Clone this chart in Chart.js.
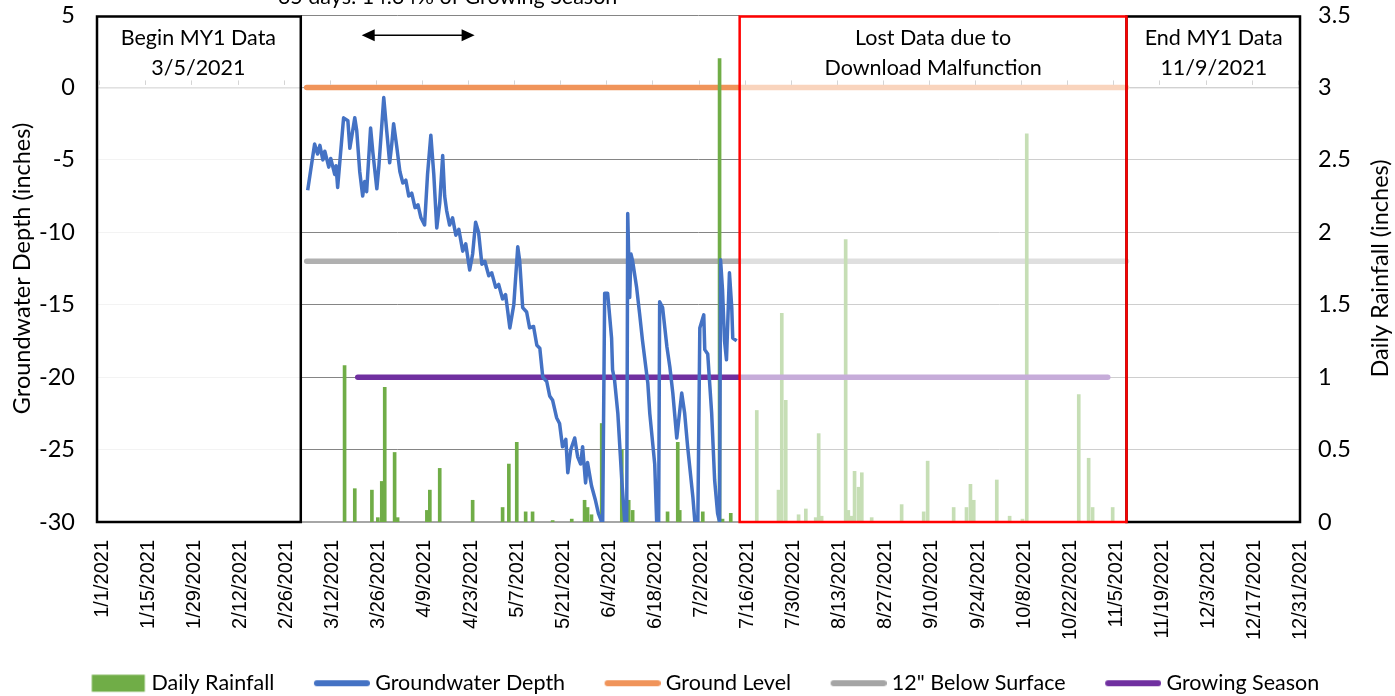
<!DOCTYPE html>
<html><head><meta charset="utf-8">
<script src="https://cdn.jsdelivr.net/npm/chart.js@4.4.1/dist/chart.umd.min.js"></script>
<style>html,body{margin:0;padding:0;background:#fff;overflow:hidden}</style>
</head><body>
<canvas id="c" width="1395" height="696"></canvas>
<script>
// ---- x axis ticks (day index from 1/1/2021) ----
const tickDays = [0,14,28,42,56,70,84,98,112,126,140,154,168,182,196,210,224,238,252,266,280,294,308,322,336,350,364];
const tickLabels = ['1/1/2021','1/15/2021','1/29/2021','2/12/2021','2/26/2021','3/12/2021','3/26/2021','4/9/2021','4/23/2021','5/7/2021','5/21/2021','6/4/2021','6/18/2021','7/2/2021','7/16/2021','7/30/2021','8/13/2021','8/27/2021','9/10/2021','9/24/2021','10/8/2021','10/22/2021','11/5/2021','11/19/2021','12/3/2021','12/17/2021','12/31/2021'];

// ---- groundwater depth (inches) ----
const gwDays = [63.3,65.4,66.3,67.0,67.9,68.5,69.7,70.3,71.5,71.9,72.4,74.2,75.5,76.1,77.6,78.2,79.1,80.0,80.6,81.2,82.4,83.1,84.3,84.9,86.4,87.3,88.2,88.8,89.4,90.3,91.3,92.2,93.1,94.0,94.9,95.9,96.8,97.7,98.8,99.7,100.7,101.6,102.5,103.4,104.3,104.9,105.5,106.4,107.3,108.3,109.2,110.4,111.3,112.5,113.4,114.3,115.2,116.2,117.1,118.3,119.2,120.4,121.3,122.5,123.4,124.7,125.9,127.1,127.7,128.6,129.8,130.7,131.9,132.9,133.8,134.7,135.9,136.8,137.7,138.9,139.8,140.7,141.7,142.3,143.2,144.4,145.3,146.2,146.8,147.7,148.3,149.5,150.7,151.6,152.6,152.9,153.5,154.4,155.6,155.9,156.5,157.5,158.7,159.6,160.2,160.5,161.1,161.5,162.0,163.2,164.1,165.0,166.6,167.2,168.7,169.3,169.9,170.2,171.1,172.4,173.3,174.2,175.4,176.9,177.8,178.7,180.3,180.9,181.8,182.4,183.6,183.9,184.8,186.0,186.9,187.8,188.4,188.7,189.3,189.9,190.5,191.4,192.1,192.4,193.6];
const gwDepth = [-7.1,-3.9,-4.6,-4.0,-5.0,-4.4,-5.5,-4.9,-6.0,-5.4,-6.9,-2.1,-2.3,-4.2,-2.1,-3.0,-5.8,-7.5,-6.5,-7.2,-2.8,-4.5,-7.0,-5.5,-0.7,-3.0,-5.2,-4.0,-2.5,-4.0,-5.8,-6.6,-6.4,-7.5,-7.3,-8.3,-8.1,-9.0,-9.5,-6.0,-3.3,-6.0,-9.7,-8.0,-4.7,-7.5,-8.5,-9.5,-9.0,-10.2,-9.8,-11.3,-10.8,-12.6,-11.5,-9.3,-10.0,-12.2,-12.0,-13.0,-12.8,-13.8,-13.6,-14.6,-14.3,-16.6,-15.0,-11.0,-12.0,-15.2,-15.5,-16.6,-16.5,-17.8,-18.0,-20.0,-20.3,-21.3,-21.6,-22.8,-23.2,-24.8,-24.3,-26.6,-25.0,-24.2,-25.5,-26.0,-24.8,-27.3,-25.9,-27.5,-28.5,-29.4,-30.0,-30.0,-14.2,-14.2,-17.3,-19.5,-20.2,-22.5,-27.1,-30.0,-30.0,-8.7,-14.5,-11.5,-12.0,-13.8,-15.6,-17.5,-20.4,-22.5,-26.0,-30.0,-30.0,-14.8,-15.2,-17.9,-19.3,-21.1,-24.2,-21.1,-22.5,-24.8,-28.3,-30.0,-30.0,-16.6,-15.7,-18.1,-18.4,-22.5,-27.1,-29.4,-30.0,-11.9,-14.0,-17.5,-18.8,-12.8,-15.2,-17.3,-17.5];

// ---- daily rainfall (inches) ----
const rainDays = [74.5,77.6,82.8,84.6,85.8,86.7,89.7,90.6,99.5,100.4,103.4,113.4,122.5,124.4,126.8,129.5,131.6,137.7,143.5,147.4,148.3,149.5,152.6,158.7,159.6,160.8,162.0,172.6,175.7,176.3,180.9,183.3,188.4,189.3,191.8,199.7,206.3,207.3,208.5,212.4,214.6,217.6,218.5,219.4,226.7,227.5,228.5,229.4,230.6,231.6,234.6,243.7,250.4,251.6,259.5,263.4,264.6,265.6,272.6,276.5,280.4,281.7,297.5,300.5,301.7,307.8];
const rainInches = [1.08,0.23,0.22,0.03,0.28,0.93,0.48,0.03,0.08,0.22,0.37,0.15,0.10,0.40,0.55,0.07,0.07,0.01,0.02,0.15,0.10,0.05,0.68,0.50,0.12,0.15,0.08,0.07,0.55,0.08,0.03,0.07,3.20,0.02,0.06,0.77,0.22,1.44,0.84,0.05,0.09,0.03,0.61,0.04,1.95,0.08,0.04,0.35,0.24,0.34,0.03,0.12,0.07,0.42,0.10,0.10,0.26,0.15,0.29,0.04,0.02,2.68,0.88,0.44,0.10,0.10];

// ---- reference lines ----
const groundLevelDays = [63, 312];   const groundLevelVals = [0, 0];
const belowSurfaceDays = [63, 312];  const belowSurfaceVals = [-12, -12];
const growingDays = [78.5, 306.3];   const growingVals = [-20, -20];

// ---- annotation extents (days) ----
const beginBoxEnd = 61.2;     // left box: axis start -> 3/3
const lostStart = 194.5;      // red box: 7/14 -> 11/9
const lostEnd = 312;
const arrowDays = [79.7, 114.0];
const arrowValue = 3.6;
const noteDay = 105.8;

const pts = (xs, ys) => xs.map((d, i) => ({x: d, y: ys[i]}));

// legend swatch: the visible mark sits at the right end of a wider image,
// leaving blank space on its left as spacing between legend entries
function swatch(kind, color) {
  const c = document.createElement('canvas');
  c.width = 91;
  const off = 35;
  if (kind === 'box') {
    c.height = 20;
    const g = c.getContext('2d');
    g.fillStyle = color; g.fillRect(off + 1.5, 1.5, 53, 17);
  } else {
    c.height = 8;
    const g = c.getContext('2d');
    g.strokeStyle = color; g.lineWidth = 6; g.lineCap = 'round';
    g.beginPath(); g.moveTo(off + 3, 4); g.lineTo(off + 53, 4); g.stroke();
  }
  return c;
}
const legendItems = [
  {text: 'Daily Rainfall', kind: 'box', color: '#70AD47'},
  {text: 'Groundwater Depth', kind: 'line', color: '#4472C4'},
  {text: 'Ground Level', kind: 'line', color: '#F0945A'},
  {text: '12" Below Surface', kind: 'line', color: '#A5A5A5'},
  {text: 'Growing Season', kind: 'line', color: '#7030A0'}
];

const annot = {
  id: 'annot',
  afterDatasetsDraw(chart) {
    const {ctx, chartArea: ca, scales: {x, y}} = chart;
    const px = d => x.getPixelForValue(d);
    const h = ca.bottom - ca.top;
    ctx.save();
    // faded regions
    ctx.fillStyle = 'rgba(255,255,255,0.9)';
    ctx.fillRect(ca.left, ca.top, px(beginBoxEnd) - ca.left, h);
    ctx.fillStyle = 'rgba(255,255,255,0.6)';
    ctx.fillRect(px(lostStart), ca.top, ca.right - px(lostStart), h);
    // horizontal axis line crossing at 0 with tick marks
    const y0 = y.getPixelForValue(0);
    ctx.strokeStyle = '#d4d4d4'; ctx.lineWidth = 1;
    ctx.beginPath();
    ctx.moveTo(ca.left, y0 + 0.5); ctx.lineTo(px(groundLevelDays[0]) - 3, y0 + 0.5);
    ctx.moveTo(px(groundLevelDays[1]) + 3, y0 + 0.5); ctx.lineTo(ca.right, y0 + 0.5);
    x.ticks.forEach(t => {
      const p = Math.round(px(t.value)) + 0.5;
      ctx.moveTo(p, y0 - 7); ctx.lineTo(p, y0 - 2.5);
    });
    ctx.stroke();
    // boxes
    ctx.lineWidth = 2.5;
    ctx.strokeStyle = '#000';
    ctx.strokeRect(ca.left + 1, ca.top + 1.5, px(beginBoxEnd) - ca.left - 1, h - 1.5);
    ctx.strokeRect(px(lostEnd), ca.top + 1.5, ca.right - px(lostEnd) - 1, h - 1.5);
    ctx.strokeStyle = '#FF0000';
    ctx.strokeRect(px(lostStart), ca.top + 1.5, px(lostEnd) - px(lostStart), h - 1.5);
    // box texts
    ctx.fillStyle = '#000';
    ctx.font = '21.5px Lato';
    ctx.textAlign = 'center'; ctx.textBaseline = 'middle';
    const t1 = ca.top + 23, t2 = ca.top + 53;
    const cL = (ca.left + px(beginBoxEnd)) / 2;
    const cM = (px(lostStart) + px(lostEnd)) / 2;
    const cR = (px(lostEnd) + ca.right) / 2;
    ctx.fillText('Begin MY1 Data', cL, t1); ctx.fillText('3/5/2021', cL, t2);
    ctx.fillText('Lost Data due to', cM, t1); ctx.fillText('Download Malfunction', cM, t2);
    ctx.fillText('End MY1 Data', cR, t1); ctx.fillText('11/9/2021', cR, t2);
    // arrow
    const ay = y.getPixelForValue(arrowValue);
    const a0 = px(arrowDays[0]), a1 = px(arrowDays[1]);
    ctx.strokeStyle = '#000'; ctx.lineWidth = 1.5;
    ctx.beginPath(); ctx.moveTo(a0 + 10, ay); ctx.lineTo(a1 - 10, ay); ctx.stroke();
    ctx.beginPath();
    ctx.moveTo(a0, ay); ctx.lineTo(a0 + 13, ay - 6); ctx.lineTo(a0 + 13, ay + 6); ctx.closePath();
    ctx.moveTo(a1, ay); ctx.lineTo(a1 - 13, ay - 6); ctx.lineTo(a1 - 13, ay + 6); ctx.closePath();
    ctx.fill();
    // note above plot (partly cut off at top)
    ctx.textBaseline = 'alphabetic';
    ctx.fillText('35 days: 14.34% of Growing Season', px(noteDay), 4);
    ctx.restore();
  },
  afterDraw(chart) {
    const {ctx, chartArea: ca} = chart;
    const s = chart.scales.y2;
    ctx.save();
    ctx.translate(s.right - 15, (ca.top + ca.bottom) / 2);
    ctx.rotate(-Math.PI / 2);
    ctx.font = '23.5px Lato';
    ctx.fillStyle = '#000';
    ctx.textAlign = 'center'; ctx.textBaseline = 'middle';
    ctx.fillText('Daily Rainfall (inches)', 0, 0);
    ctx.restore();
  }
};

Chart.defaults.font.family = 'Lato';
Chart.defaults.color = '#000';

const zeroPad = s => { s.paddingTop = 0; s.paddingBottom = 0; s.paddingLeft = 0; s.paddingRight = 0; };

new Chart(document.getElementById('c'), {
  type: 'bar',
  data: {
    datasets: [
      {type: 'line', label: 'Groundwater Depth', data: pts(gwDays, gwDepth), xAxisID: 'x', yAxisID: 'y',
       borderColor: '#4472C4', borderWidth: 3.5, pointRadius: 0, tension: 0, borderJoinStyle: 'round', order: 1},
      {type: 'line', label: 'Growing Season', data: pts(growingDays, growingVals), xAxisID: 'x', yAxisID: 'y',
       borderColor: '#7030A0', borderWidth: 5.5, borderCapStyle: 'round', pointRadius: 0, order: 2},
      {type: 'bar', label: 'Daily Rainfall', data: pts(rainDays, rainInches), xAxisID: 'x', yAxisID: 'y2',
       backgroundColor: '#70AD47', barThickness: 3, grouped: false, order: 3},
      {type: 'line', label: '12" Below Surface', data: pts(belowSurfaceDays, belowSurfaceVals), xAxisID: 'x', yAxisID: 'y',
       borderColor: '#B0B0B0', borderWidth: 5.5, borderCapStyle: 'round', pointRadius: 0, order: 4},
      {type: 'line', label: 'Ground Level', data: pts(groundLevelDays, groundLevelVals), xAxisID: 'x', yAxisID: 'y',
       borderColor: '#F0945A', borderWidth: 5.5, borderCapStyle: 'round', pointRadius: 0, order: 5}
    ]
  },
  options: {
    responsive: false,
    animation: false,
    devicePixelRatio: 1,
    layout: {padding: {left: -15, top: 15, right: 0, bottom: -8}},
    plugins: {
      tooltip: {enabled: false},
      legend: {
        position: 'bottom',
        labels: {
          usePointStyle: true, pointStyleWidth: 80, padding: 10, color: '#000',
          font: {size: 21.5, family: 'Lato'},
          generateLabels: () => legendItems.map((it, i) => ({
            text: it.text, pointStyle: swatch(it.kind, it.color), fillStyle: it.color,
            strokeStyle: it.color, lineWidth: 0, hidden: false, datasetIndex: i, fontColor: '#000'
          }))
        }
      }
    },
    scales: {
      x: {
        type: 'linear', position: 'bottom', min: -1, max: 365, offset: false,
        grid: {display: false, drawTicks: false}, border: {display: false},
        afterBuildTicks: s => { s.ticks = tickDays.map(v => ({value: v})); },
        afterFit: s => { s.height = 140.5; zeroPad(s); },
        ticks: {autoSkip: false, minRotation: 90, maxRotation: 90, padding: 18, labelOffset: 3,
                font: {family: 'Liberation Sans', size: 20}, color: '#000',
                callback: (v, i) => tickLabels[i]}
      },
      y: {
        position: 'left', min: -30, max: 5,
        ticks: {stepSize: 5, padding: 21, font: {size: 23.5}, color: '#000'},
        grid: {drawTicks: false,
               color: c => c.tick && c.tick.value === -30 ? '#a6a6a6' : '#858585',
               lineWidth: c => c.tick && c.tick.value === -30 ? 2 : 1},
        border: {display: false},
        title: {display: true, text: 'Groundwater Depth (inches)', font: {size: 23.5}, color: '#000', padding: {top: 22.9, bottom: 0}},
        afterFit: s => { s.width = 111; zeroPad(s); }
      },
      y2: {
        position: 'right', min: 0, max: 3.5,
        ticks: {stepSize: 0.5, padding: 17, font: {size: 23.5}, color: '#000', callback: v => String(v)},
        grid: {display: false, drawTicks: false},
        border: {display: false},
        afterFit: s => { s.width = 94; zeroPad(s); }
      }
    }
  },
  plugins: [annot]
});
</script>
</body></html>
